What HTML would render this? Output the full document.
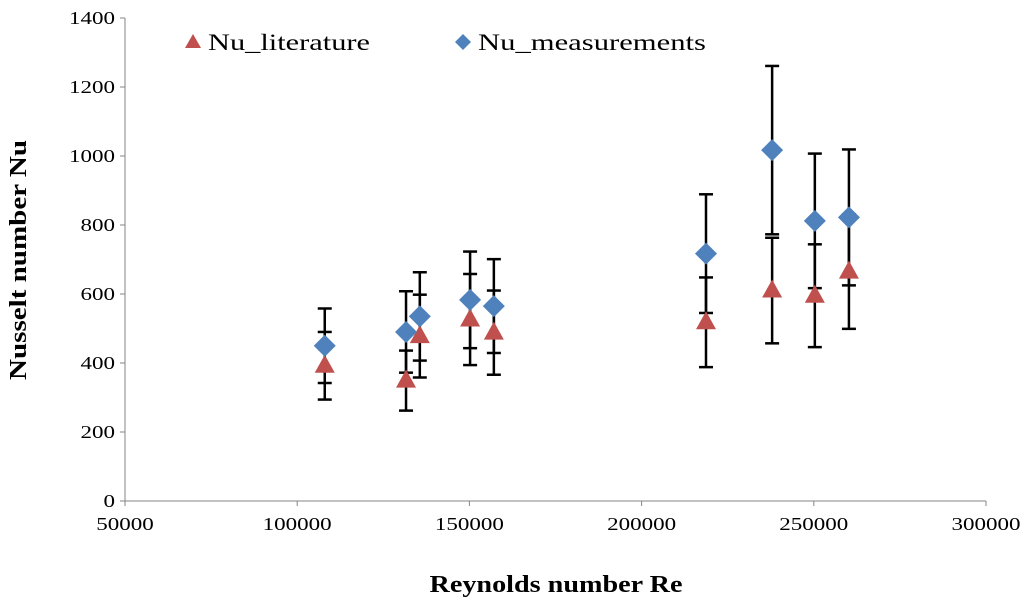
<!DOCTYPE html>
<html><head><meta charset="utf-8"><style>
body{margin:0;background:#fff;}
svg{display:block;font-family:"Liberation Serif",serif;}
</style></head><body>
<svg id="chart" width="1024" height="607">
<g id="axes"></g>
<g id="marks"></g>
<g>
<polygon points="193,34 185,48 201,48" fill="#c0504d"/>
<text x="208" y="50" font-size="23" textLength="162" lengthAdjust="spacingAndGlyphs">Nu_literature</text>
<polygon points="463,34 471,42 463,50 455,42" fill="#4f81bd"/>
<text x="478" y="50" font-size="23" textLength="228" lengthAdjust="spacingAndGlyphs">Nu_measurements</text>
</g>
<text transform="translate(26,260) rotate(-90)" text-anchor="middle" font-size="24" font-weight="bold" textLength="240" lengthAdjust="spacingAndGlyphs">Nusselt number Nu</text>
<text x="556" y="592" text-anchor="middle" font-size="24" font-weight="bold" textLength="253" lengthAdjust="spacingAndGlyphs">Reynolds number Re</text>
</svg>
<script>
const reValues=[108000,131600,135600,150200,157100,218700,237900,250300,260200];
const nuMeas=[450,490,535,583,565,717,1017,812,822];
const nuMeasErr=[108,118,128,140,136,172,244,195,197];
const nuLit=[392,349,478,526,488,518,610,595,665];
const nuLitErr=[98,87,120,132,122,130,153,149,166];
const xTicks=[50000,100000,150000,200000,250000,300000];
const yTicks=[0,200,400,600,800,1000,1200,1400];
const X0=125,X1=986,Y0=501,Y1=18;
const sx=v=>X0+(v-50000)/250000*(X1-X0);
const sy=v=>Y0-v/1400*(Y0-Y1);
const NS="http://www.w3.org/2000/svg";
function mk(p,t,a){const e=document.createElementNS(NS,t);for(const k in a)e.setAttribute(k,a[k]);p.appendChild(e);return e;}
const ax=document.getElementById('axes'),mg=document.getElementById('marks');
let e=mk(ax,'line',{x1:X0,y1:Y1,x2:X0,y2:Y0,stroke:'#868686','stroke-width':1});


e=mk(ax,'line',{x1:X0,y1:Y0,x2:X1,y2:Y0,stroke:'#868686','stroke-width':1});


yTicks.forEach(v=>{const y=sy(v);
 let t=mk(ax,'line',{x1:X0-5,y1:y,x2:X0,y2:y,stroke:'#868686'});
 
 
 let l=mk(ax,'text',{x:X0-10,y:y+6,'text-anchor':'end','font-size':18,textLength:String(v).length*11.5,lengthAdjust:'spacingAndGlyphs'});l.textContent=v;
 
 });
xTicks.forEach(v=>{const x=sx(v);
 let t=mk(ax,'line',{x1:x,y1:Y0,x2:x,y2:Y0+5,stroke:'#868686'});
 
 
 let l=mk(ax,'text',{x:x,y:Y0+29,'text-anchor':'middle','font-size':18,textLength:String(v).length*11.5,lengthAdjust:'spacingAndGlyphs'});l.textContent=v;
 
 });
function err(x,v,d){const g=mk(mg,'g',{stroke:'#000','stroke-width':2.5});
 
 
 mk(g,'line',{x1:x,y1:sy(v-d),x2:x,y2:sy(v+d)});
 mk(g,'line',{x1:x-7,y1:sy(v-d),x2:x+7,y2:sy(v-d)});
 mk(g,'line',{x1:x-7,y1:sy(v+d),x2:x+7,y2:sy(v+d)});}
reValues.forEach((r,i)=>{const x=sx(r);err(x,nuMeas[i],nuMeasErr[i]);err(x,nuLit[i],nuLitErr[i]);});
reValues.forEach((r,i)=>{const x=sx(r),y=sy(nuLit[i]);
 const p=mk(mg,'polygon',{points:`${x},${y-11} ${x-10},${y+7} ${x+10},${y+7}`,fill:'#c0504d'});
 
 });
reValues.forEach((r,i)=>{const x=sx(r),y=sy(nuMeas[i]);
 const p=mk(mg,'polygon',{points:`${x},${y-11} ${x+11},${y} ${x},${y+11} ${x-11},${y}`,fill:'#4f81bd'});
 
 });
</script>
</body></html>
